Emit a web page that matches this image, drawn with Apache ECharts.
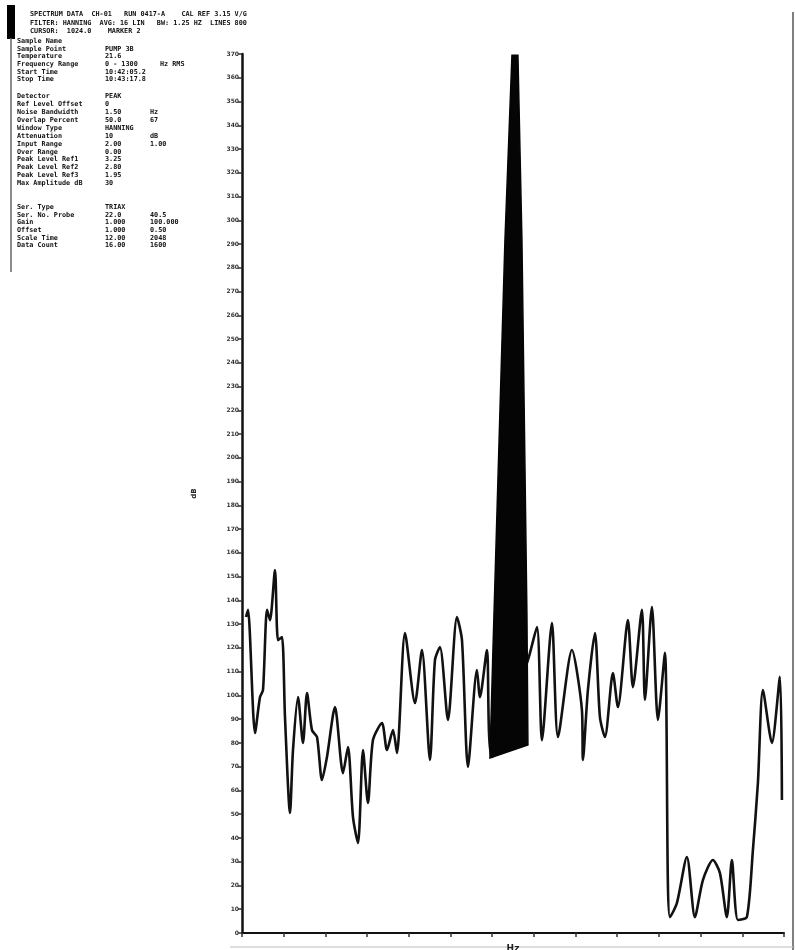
<!DOCTYPE html>
<html><head><meta charset="utf-8">
<script src="https://cdn.jsdelivr.net/npm/echarts@6/dist/echarts.min.js"></script>
<style>html,body{margin:0;padding:0;background:#fff}#c{width:795px;height:950px}</style>
</head><body><div id="c"></div>
<script>
// Spectrum trace (x = frequency units, y = level units)
const freq = [9.6,14.4,31.2,43.2,50.4,60.0,67.1,79.1,86.3,95.9,103.1,115.1,122.3,134.3,146.3,155.9,167.9,179.9,191.8,203.8,223.0,242.2,254.2,266.2,278.2,290.2,302.1,314.1,335.7,347.7,362.1,371.7,390.9,414.9,431.6,450.8,462.8,474.8,494.0,515.6,527.6,542.0,563.5,570.7,587.5,599.5,
  685.8,707.4,719.4,743.4,757.8,791.3,815.3,817.7,829.7,846.5,858.5,870.5,889.7,901.6,925.6,937.6,959.2,966.4,983.2,997.6,1014.4,1021.5,1026.3,1043.1,1067.1,1086.3,1105.5,1129.5,1146.2,1163.0,1175.0,1189.4,1211.0,1225.4,1237.4,1249.4,1271.0,1290.2,1295.0];
const level = [133.0,136.0,84.2,99.3,102.3,136.0,131.7,152.8,123.3,124.6,90.9,50.5,77.0,99.3,80.0,101.0,85.4,82.5,64.4,74.1,95.1,67.3,78.3,48.8,37.9,77.0,54.7,81.2,88.4,77.0,85.4,75.8,126.3,96.8,119.1,72.8,114.9,120.4,89.7,133.0,123.3,69.9,110.7,99.3,119.1,74.1,
  114.9,128.8,81.2,130.5,82.5,119.1,93.9,72.8,102.3,126.3,90.9,82.5,109.4,95.1,131.7,103.5,136.0,98.1,137.2,89.7,117.9,21.0,6.7,12.6,32.0,6.7,22.3,30.7,25.3,6.7,30.7,5.5,6.7,34.9,63.1,102.3,80.0,107.8,56.0];
// Filled main peak outline
const peakFreq = [594.7,601.9,630.7,647.5,661.8,671.4,683.4,685.8];
const peakLevel = [73.7,119.1,291.7,369.5,369.5,291.7,133.8,79.1];

const infoLines = [
  ['SPECTRUM DATA  CH-01   RUN 0417-A    CAL REF 3.15 V/G', '', ''],
  ['FILTER: HANNING  AVG: 16 LIN   BW: 1.25 HZ  LINES 800', '', ''],
  ['CURSOR:  1024.0    MARKER 2', '', '']
];
const block1 = [
  ['Sample Name', '', ''],
  ['Sample Point', 'PUMP 3B', ''],
  ['Temperature', '21.6', ''],
  ['Frequency Range', '0 - 1300', 'Hz RMS'],
  ['Start Time', '10:42:05.2', ''],
  ['Stop Time', '10:43:17.8', '']
];
const block2 = [
  ['Detector', 'PEAK', ''],
  ['Ref Level Offset', '0', ''],
  ['Noise Bandwidth', '1.50', 'Hz'],
  ['Overlap Percent', '50.0', '67'],
  ['Window Type', 'HANNING', ''],
  ['Attenuation', '10', 'dB'],
  ['Input Range', '2.00', '1.00'],
  ['Over Range', '0.00', ''],
  ['Peak Level Ref1', '3.25', ''],
  ['Peak Level Ref2', '2.80', ''],
  ['Peak Level Ref3', '1.95', ''],
  ['Max Amplitude dB', '30', '']
];
const block3 = [
  ['Ser. Type', 'TRIAX', ''],
  ['Ser. No. Probe', '22.0', '40.5'],
  ['Gain', '1.000', '100.000'],
  ['Offset', '1.000', '0.50'],
  ['Scale Time', '12.00', '2048'],
  ['Data Count', '16.00', '1600']
];

const chart = echarts.init(document.getElementById('c'));
const font = 'bold 6.8px "DejaVu Sans Mono"';
const graphics = [];
function addRows(rows, y0, dy, xs) {
  rows.forEach((r, i) => {
    r.forEach((t, j) => {
      if (!t) return;
      graphics.push({type: 'text', x: xs[j], y: y0 + i * dy, style: {text: t, font: font, fill: '#111'}});
    });
  });
}
addRows(infoLines, 11, 8.5, [30, 0, 0]);
addRows(block1, 38, 7.6, [17, 105, 160]);
addRows(block2, 93, 7.9, [17, 105, 150]);
addRows(block3, 204, 7.6, [17, 105, 150]);
graphics.push({type: 'rect', shape: {x: 7, y: 5, width: 8, height: 34}, style: {fill: '#000'}});
graphics.push({type: 'line', shape: {x1: 11, y1: 38, x2: 11, y2: 272}, style: {stroke: '#666', lineWidth: 1.5}});
graphics.push({type: 'line', shape: {x1: 793, y1: 12, x2: 793, y2: 950}, style: {stroke: '#555', lineWidth: 1.5}});
graphics.push({type: 'line', shape: {x1: 230, y1: 947, x2: 795, y2: 947}, style: {stroke: '#bbb', lineWidth: 1}});

chart.setOption({
  animation: false,
  backgroundColor: '#fff',
  grid: {left: 242, right: 11, top: 54, bottom: 17, outerBoundsMode: 'none', containLabel: false},
  xAxis: {
    type: 'value', min: 0, max: 1300, interval: 100,
    name: 'Hz', nameLocation: 'middle', nameGap: 11,
    nameTextStyle: {fontSize: 9, fontWeight: 'bold', color: '#222', fontFamily: 'DejaVu Sans'},
    axisLine: {lineStyle: {color: '#111', width: 2}},
    axisTick: {show: true, length: 4, lineStyle: {color: '#333', width: 1.5}},
    axisLabel: {show: false},
    splitLine: {show: false}
  },
  yAxis: {
    type: 'value', min: 0, max: 370, interval: 10,
    name: 'dB', nameLocation: 'middle', nameGap: 44, nameRotate: 90,
    nameTextStyle: {fontSize: 7, fontWeight: 'bold', color: '#222', fontFamily: 'DejaVu Sans'},
    axisLine: {lineStyle: {color: '#111', width: 2.5}},
    axisTick: {show: true, length: 4, lineStyle: {color: '#333', width: 1.5}},
    axisLabel: {fontSize: 6, fontWeight: 'bold', color: '#333', margin: 3, fontFamily: 'DejaVu Sans'},
    splitLine: {show: false}
  },
  graphic: graphics,
  series: [
    {
      type: 'line', data: freq.map((f, i) => [f, level[i]]),
      showSymbol: false, smooth: 0.25,
      lineStyle: {color: '#111', width: 2.6}, z: 3
    },
    {
      type: 'custom', data: [0], z: 4,
      renderItem: function (params, api) {
        const pts = peakFreq.map((f, i) => api.coord([f, peakLevel[i]]));
        return {type: 'polygon', shape: {points: pts}, style: {fill: '#050505', stroke: '#050505', lineWidth: 1.5}};
      }
    }
  ]
});
</script></body></html>
